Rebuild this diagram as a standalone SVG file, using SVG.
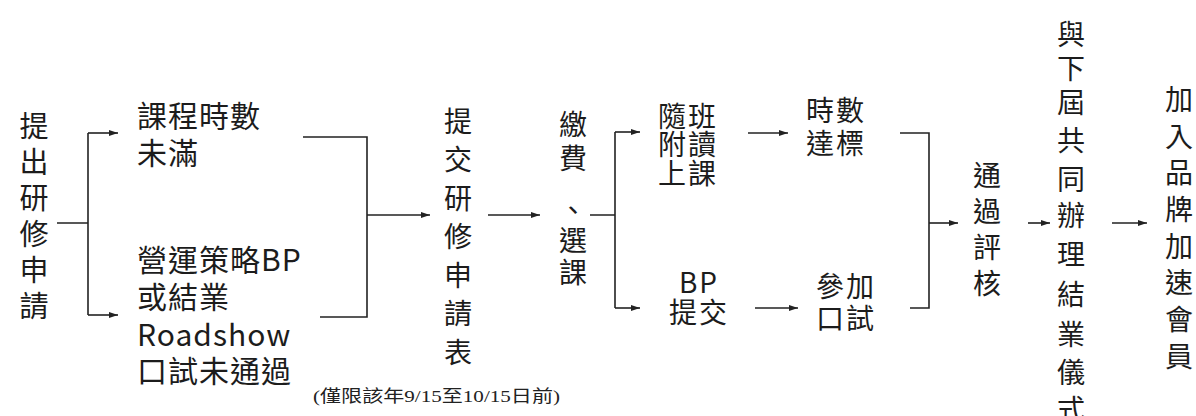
<svg xmlns="http://www.w3.org/2000/svg" width="1196" height="416" viewBox="0 0 1196 416">
<style>
.t{font-family:"Noto Sans CJK TC","Noto Sans CJK SC",sans-serif;font-size:28px;fill:#1c1c1c}
.c{text-anchor:middle}
.l{font-size:30px;letter-spacing:1px}
.n{font-family:"Liberation Serif","Noto Sans CJK TC",serif;font-size:17px;fill:#222}
.k{fill:none;stroke:#222;stroke-width:1.6}
.a{marker-end:url(#ah)}
</style>
<defs>
<marker id="ah" markerUnits="userSpaceOnUse" markerWidth="10" markerHeight="8" refX="9" refY="3" orient="auto">
<path d="M0,0 L9,3 L0,6 z" fill="#222"/>
</marker>
</defs>
<rect width="1196" height="416" fill="#fff"/>
<g id="connectors">
<path class="k" d="M57,223 H88 M88,133 V315"/>
<path class="k a" d="M88,133 H118"/>
<path class="k a" d="M88,315 H118"/>
<path class="k" d="M303,137 H367 V317 H320"/>
<path class="k a" d="M367,215 H430"/>
<path class="k a" d="M488,215 H540"/>
<path class="k" d="M590,215 H615 M615,132 V308"/>
<path class="k a" d="M615,132 H640"/>
<path class="k a" d="M615,308 H640"/>
<path class="k a" d="M748,133 H788"/>
<path class="k a" d="M755,308 H798"/>
<path class="k" d="M900,133 H929 V308 H910"/>
<path class="k a" d="M929,223 H958"/>
<path class="k a" d="M1028,223 H1050"/>
<path class="k a" d="M1112,223 H1147"/>
</g>
<g id="n-apply">
<text class="t c" style="font-size:29px"><tspan x="34" y="137">提</tspan><tspan x="34" y="173">出</tspan><tspan x="34" y="209">研</tspan><tspan x="34" y="245">修</tspan><tspan x="34" y="281">申</tspan><tspan x="34" y="317">請</tspan></text>
</g>
<g id="n-hours">
<text class="t l"><tspan x="137" y="127">課程時數</tspan><tspan x="137" y="164">未滿</tspan></text>
</g>
<g id="n-bp-fail">
<text class="t l"><tspan x="137" y="271">營運策略BP</tspan><tspan x="137" y="308">或結業</tspan><tspan x="137" y="346">Roadshow</tspan><tspan x="137" y="382">口試未通過</tspan></text>
</g>
<g id="n-submit">
<text class="t c"><tspan x="458" y="132">提</tspan><tspan x="458" y="170">交</tspan><tspan x="458" y="209">研</tspan><tspan x="458" y="247">修</tspan><tspan x="458" y="286">申</tspan><tspan x="458" y="324">請</tspan><tspan x="458" y="363">表</tspan></text>
<text class="n" x="313" y="402" textLength="247" lengthAdjust="spacingAndGlyphs">(僅限該年9/15至10/15日前)</text>
</g>
<g id="n-pay">
<text class="t c"><tspan x="573" y="135">繳</tspan><tspan x="573" y="169">費</tspan><tspan x="573" y="221">、</tspan><tspan x="573" y="251">選</tspan><tspan x="573" y="283">課</tspan></text>
</g>
<g id="n-audit">
<text class="t c" style="letter-spacing:2px"><tspan x="688" y="127">隨班</tspan><tspan x="688" y="155">附讀</tspan><tspan x="688" y="184">上課</tspan></text>
</g>
<g id="n-bp">
<text class="t c" style="letter-spacing:2px"><tspan x="699" y="293">BP</tspan><tspan x="699" y="323">提交</tspan></text>
</g>
<g id="n-reach">
<text class="t c" style="letter-spacing:2px"><tspan x="836" y="121">時數</tspan><tspan x="836" y="154">達標</tspan></text>
</g>
<g id="n-oral">
<text class="t c" style="letter-spacing:2px"><tspan x="846" y="297">參加</tspan><tspan x="846" y="329">口試</tspan></text>
</g>
<g id="n-pass">
<text class="t c"><tspan x="987" y="186">通</tspan><tspan x="987" y="222">過</tspan><tspan x="987" y="258">評</tspan><tspan x="987" y="294">核</tspan></text>
</g>
<g id="n-ceremony">
<text class="t c"><tspan x="1071" y="45">與</tspan><tspan x="1071" y="79">下</tspan><tspan x="1071" y="113">屆</tspan><tspan x="1071" y="151">共</tspan><tspan x="1071" y="190">同</tspan><tspan x="1071" y="226">辦</tspan><tspan x="1071" y="265">理</tspan><tspan x="1071" y="305">結</tspan><tspan x="1071" y="345">業</tspan><tspan x="1071" y="383">儀</tspan><tspan x="1071" y="420">式</tspan></text>
</g>
<g id="n-member">
<text class="t c"><tspan x="1179" y="110">加</tspan><tspan x="1179" y="147">入</tspan><tspan x="1179" y="183">品</tspan><tspan x="1179" y="220">牌</tspan><tspan x="1179" y="257">加</tspan><tspan x="1179" y="293">速</tspan><tspan x="1179" y="330">會</tspan><tspan x="1179" y="367">員</tspan></text>
</g>
</svg>
